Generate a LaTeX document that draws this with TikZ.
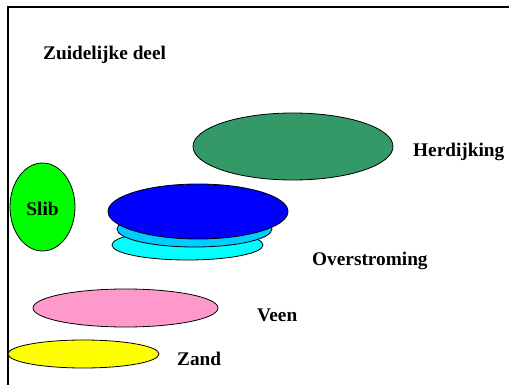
\documentclass[tikz,border=0pt]{standalone}
\usepackage{fontspec}
\setmainfont{Liberation Serif}
\usepackage{xcolor}
\usepackage{tikz}
\usetikzlibrary{positioning,shapes.geometric}
\definecolor{dijkgreen}{HTML}{339966}
\definecolor{slibgreen}{HTML}{00FF00}
\definecolor{waterblue}{HTML}{0000FF}
\definecolor{skycyan}{HTML}{00CCFF}
\definecolor{lightcyan}{HTML}{00FFFF}
\definecolor{veenpink}{HTML}{FF99CC}
\definecolor{zandyellow}{HTML}{FFFF00}
\tikzset{
  lagen/.style={ellipse, draw=black, line width=0.8pt, fill=#1, inner sep=0pt},
  naam/.style={font=\fontsize{19.3}{23}\selectfont\bfseries, inner sep=0pt, anchor=base west},
}
\begin{document}
\begin{tikzpicture}[x=1pt, y=-1pt]
  \useasboundingbox (0,0) rectangle (509,385);
  \draw[line width=2pt] (8,385) -- (8,7) -- (509,7);

  \node[naam] (titel) at (43,60) {Zuidelijke deel};

  \node[lagen=dijkgreen, minimum width=200pt, minimum height=67pt] (herd) at (293,146.5) {};
  \node[lagen=slibgreen, minimum width=65pt, minimum height=88pt] (slib) at (42.5,207) {};
  \node[lagen=lightcyan, minimum width=151pt, minimum height=30pt] (over3) at (187.5,245) {};
  \node[lagen=skycyan, minimum width=155pt, minimum height=36pt] (over2) at (194.5,229) {};
  \node[lagen=waterblue, minimum width=180pt, minimum height=55pt] (over1) at (198,211.5) {};
  \node[lagen=veenpink, minimum width=185pt, minimum height=38pt] (veen) at (125.5,308) {};
  \node[lagen=zandyellow, minimum width=151pt, minimum height=28pt] (zand) at (83.5,354) {};

  \node[naam, anchor=base] (slibtxt) at (42.5,215) {Slib};
  \node[naam] (herdtxt) at (413,157) {Herdijking};
  \node[naam] (overtxt) at (312,265) {Overstroming};
  \node[naam] (veentxt) at (257,321) {Veen};
  \node[naam] (zandtxt) at (177,365) {Zand};
\end{tikzpicture}
\end{document}
